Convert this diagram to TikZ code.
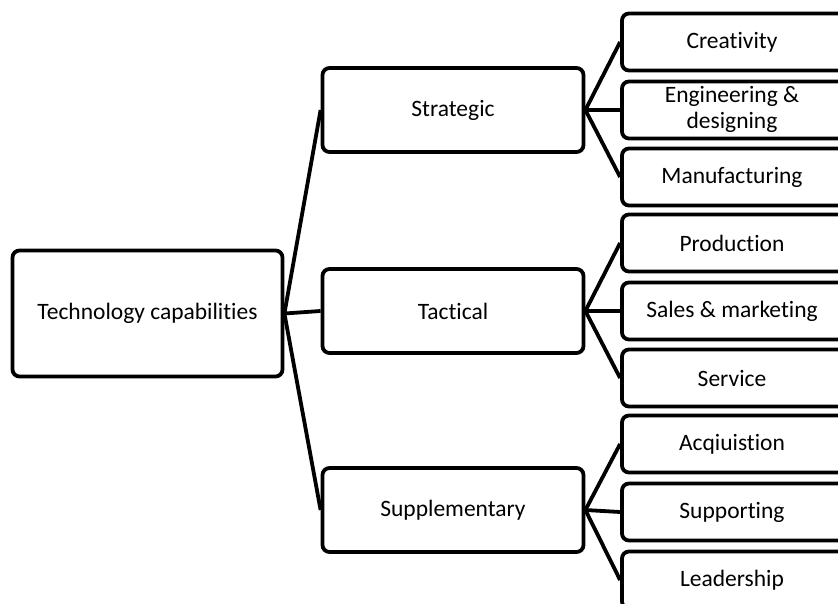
\documentclass[tikz,border=0pt]{standalone}
\usepackage{fontspec}
\setmainfont[Ligatures={NoCommon}]{Carlito}
\begin{document}
\begin{tikzpicture}[x=1pt,y=-1pt,
  box/.style={draw=black, line width=3.8pt, rounded corners=7pt, fill=white, align=center, font=\fontsize{23.5}{26}\selectfont, inner sep=0pt},
  rootbox/.style={box, minimum width=270pt, minimum height=126pt},
  midbox/.style={box, minimum width=261pt, minimum height=84pt},
  leafbox/.style={box, minimum width=228pt, minimum height=57pt},
  conn/.style={line width=3.8pt, black}]
\useasboundingbox (0,0) rectangle (838,603);
\clip (0,0) rectangle (838,603);
\node[rootbox] (root) at (147.5,313.5) {Technology capabilities};
\node[midbox] (strat) at (453,110) {Strategic};
\node[midbox] (tact) at (453,311) {Tactical};
\node[midbox] (supp) at (453,510) {Supplementary};
\node[leafbox] (l1) at (736,42) {\hspace*{-8pt}\raisebox{-2pt}{Creativity}};
\node[leafbox] (l2) at (736,110) {\hspace*{-8pt}\begin{tabular}{@{}c@{}}Engineering \&\\[0pt] designing\end{tabular}};
\node[leafbox] (l3) at (736,177) {\hspace*{-8pt}\raisebox{-2pt}{Manufacturing}};
\node[leafbox] (l4) at (736,243) {\hspace*{-8pt}\raisebox{-2pt}{Production}};
\node[leafbox] (l5) at (736,311) {\hspace*{-8pt}\raisebox{-2pt}{Sales \& marketing}};
\node[leafbox] (l6) at (736,378) {\hspace*{-8pt}\raisebox{-2pt}{Service}};
\node[leafbox] (l7) at (736,444) {\hspace*{-8pt}\raisebox{-2pt}{Acqiuistion}};
\node[leafbox] (l8) at (736,512) {\hspace*{-8pt}\raisebox{-2pt}{Supporting}};
\node[leafbox] (l9) at (736,580) {\hspace*{-8pt}\raisebox{-2pt}{Leadership}};
\foreach \m in {strat,tact,supp} \draw[conn] (root.east) -- (\m.west);
\foreach \l in {l1,l2,l3} \draw[conn] (strat.east) -- (\l.west);
\foreach \l in {l4,l5,l6} \draw[conn] (tact.east) -- (\l.west);
\foreach \l in {l7,l8,l9} \draw[conn] (supp.east) -- (\l.west);
\end{tikzpicture}
\end{document}
